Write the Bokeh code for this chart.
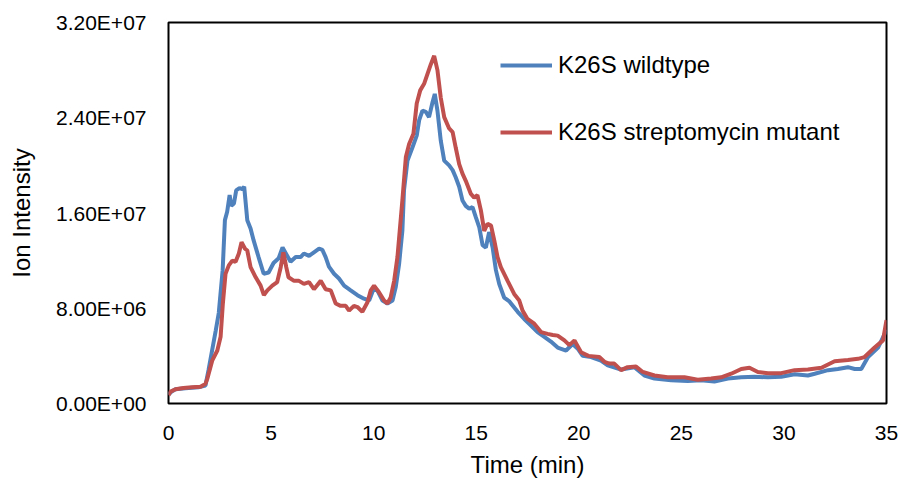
import numpy as np
from bokeh.plotting import figure
from bokeh.models import Range1d, FixedTicker, Legend, LegendItem
from bokeh.embed import file_html
from bokeh.resources import INLINE

# ---- data (intensity values in millions of counts) ----
time_wt = [0.0, 0.15, 0.34, 0.83, 1.46, 1.8, 1.95, 2.3, 2.45, 2.64, 2.75, 2.86, 2.98, 3.06, 3.19, 3.3,
           3.46, 3.6, 3.69, 3.84, 4.0, 4.15, 4.39, 4.64, 4.88, 5.12, 5.37, 5.56, 5.79, 5.95, 6.2, 6.44,
           6.6, 6.85, 7.09, 7.34, 7.5, 7.66, 7.82, 8.07, 8.31, 8.56, 8.88, 9.21, 9.53, 9.78, 9.99, 10.18,
           10.43, 10.67, 10.92, 11.08, 11.24, 11.4, 11.48, 11.65, 11.89, 12.1, 12.22, 12.38, 12.54, 12.7,
           12.87, 12.98, 13.11, 13.27, 13.44, 13.68, 13.85, 14.0, 14.17, 14.33, 14.49, 14.66, 14.82, 14.98,
           15.15, 15.31, 15.47, 15.63, 15.8, 15.96, 16.12, 16.36, 16.6, 17.02, 17.34, 17.67, 17.99, 18.32,
           18.64, 18.97, 19.38, 19.7, 19.95, 20.19, 20.6, 21.08, 21.41, 22.06, 22.71, 23.2, 23.69, 24.5,
           25.31, 25.96, 26.61, 27.27, 27.92, 28.57, 29.22, 29.87, 30.52, 31.17, 31.5, 32.15, 32.63, 33.12,
           33.45, 33.77, 34.1, 34.59, 34.91, 35.0]
intensity_wt = [0.75, 1.0, 1.2, 1.29, 1.37, 1.5, 2.8, 6.1, 7.6, 11.2, 15.4, 16.1, 17.5, 16.6, 16.8, 17.9,
                18.1, 18.0, 18.2, 15.4, 14.7, 13.7, 12.3, 10.9, 11.0, 11.8, 12.2, 13.1, 12.4, 11.9, 12.3, 12.3,
                12.6, 12.4, 12.7, 13.0, 12.9, 12.3, 11.5, 10.9, 10.5, 9.9, 9.5, 9.1, 8.8, 8.65, 9.6, 9.5,
                8.65, 8.4, 8.65, 9.8, 11.7, 14.5, 17.9, 20.4, 21.5, 22.5, 23.8, 24.6, 24.5, 24.05,
                25.3, 26.0, 24.6, 22.1, 20.4, 20.0, 19.6, 19.0, 18.2, 17.05, 16.6, 16.35, 16.5, 15.65,
                14.8, 13.3, 13.1, 14.4, 13.1, 11.2, 10.05, 8.9, 8.6, 7.7, 7.1, 6.55, 6.0, 5.6,
                5.2, 4.7, 4.45, 5.0, 4.6, 4.0, 3.9, 3.6, 3.2, 2.85, 3.05, 2.35, 2.1, 1.95,
                1.9, 1.95, 1.85, 2.1, 2.2, 2.25, 2.2, 2.25, 2.45, 2.35, 2.5, 2.8, 2.9, 3.05,
                2.9, 2.9, 3.9, 4.7, 5.85, 6.2]

time_mut = [0.0, 0.1, 0.34, 0.73, 1.15, 1.56, 1.8, 1.89, 2.13, 2.38, 2.54, 2.65, 2.78, 2.94, 3.11, 3.27,
            3.43, 3.56, 3.73, 3.84, 4.0, 4.25, 4.49, 4.65, 4.82, 5.06, 5.3, 5.47, 5.6, 5.74, 5.85, 6.12,
            6.36, 6.6, 6.85, 7.09, 7.42, 7.66, 7.91, 8.15, 8.39, 8.64, 8.8, 9.04, 9.21, 9.45, 9.7, 9.86,
            10.02, 10.26, 10.51, 10.67, 10.83, 11.0, 11.16, 11.4, 11.57, 11.73, 11.94, 12.1, 12.27, 12.46,
            12.63, 12.79, 12.95, 13.11, 13.27, 13.44, 13.68, 13.85, 14.0, 14.17, 14.33, 14.49, 14.74, 14.9,
            15.06, 15.23, 15.39, 15.55, 15.72, 15.88, 16.04, 16.2, 16.53, 16.85, 17.1, 17.26, 17.5, 17.83,
            18.16, 18.48, 18.73, 18.97, 19.3, 19.54, 19.79, 20.11, 20.47, 21.0, 21.25, 21.49, 21.73, 22.06,
            22.38, 22.79, 23.12, 23.69, 24.33, 25.15, 25.8, 26.45, 26.94, 27.43, 27.92, 28.32, 28.73, 29.22,
            29.87, 30.52, 31.17, 31.83, 32.47, 33.12, 33.61, 33.93, 34.42, 34.83, 35.0]
intensity_mut = [0.7, 1.0, 1.2, 1.3, 1.37, 1.4, 1.65, 2.07, 3.6, 4.45, 5.6, 8.4, 10.9, 11.6, 12.0, 11.9,
                 12.6, 13.55, 13.0, 12.85, 11.45, 10.6, 9.9, 9.1, 9.5, 9.9, 10.2, 11.45, 12.7, 11.45, 10.6, 10.3,
                 10.3, 10.05, 10.2, 9.6, 10.3, 9.6, 9.5, 8.4, 8.2, 8.2, 7.8, 8.2, 8.1, 7.7, 8.5, 9.5,
                 9.9, 9.35, 8.65, 8.4, 8.9, 10.3, 12.3, 17.05, 20.7, 21.8, 22.65, 25.2, 26.3, 26.85,
                 27.7, 28.5, 29.2, 28.0, 25.7, 24.05, 23.1, 22.8, 21.5, 20.1, 19.3, 18.7, 17.6, 17.3,
                 17.5, 16.2, 14.5, 15.1, 14.95, 13.7, 12.3, 11.45, 10.3, 9.2, 8.65, 7.8, 7.1, 6.7,
                 6.0, 5.85, 5.75, 5.7, 5.3, 4.9, 5.3, 4.3, 4.0, 3.9, 3.5, 3.35, 3.35, 2.8,
                 3.05, 3.1, 2.65, 2.35, 2.2, 2.2, 2.0, 2.1, 2.2, 2.5, 2.9, 3.0, 2.65, 2.55,
                 2.55, 2.8, 2.85, 3.0, 3.55, 3.65, 3.75, 3.9, 4.7, 5.3, 7.0]

series_names = ["K26S wildtype", "K26S streptomycin mutant"]
x_ticks = [0, 5, 10, 15, 20, 25, 30, 35]
y_ticks = [0, 8e6, 1.6e7, 2.4e7, 3.2e7]
y_tick_labels = ["0.00E+00", "8.00E+06", "1.60E+07", "2.40E+07", "3.20E+07"]
x_title = "Time (min)"
y_title = "Ion Intensity"

SCALE = 1e6
FONT = "Liberation Sans"
BLUE = "#4F81BD"
RED = "#C0504D"

p = figure(width=901, height=481, output_backend="svg", toolbar_location=None,
           x_range=Range1d(0, 35), y_range=Range1d(0, 3.2e7),
           min_border_left=168, min_border_right=15, min_border_top=22, min_border_bottom=78)
p.background_fill_color = "white"
p.border_fill_color = "white"
p.outline_line_color = "black"
p.outline_line_width = 2
p.grid.visible = False

r_wt = p.line(time_wt, np.array(intensity_wt) * SCALE, line_color=BLUE, line_width=4)
r_mut = p.line(time_mut, np.array(intensity_mut) * SCALE, line_color=RED, line_width=4)

for ax in (p.xaxis[0], p.yaxis[0]):
    ax.axis_line_color = None
    ax.major_tick_line_color = None
    ax.minor_tick_line_color = None
    ax.major_tick_out = 0
    ax.major_tick_in = 0
    ax.minor_tick_out = 0
    ax.minor_tick_in = 0
    ax.major_label_text_font = FONT
    ax.major_label_text_font_size = "21px"
    ax.major_label_text_color = "black"
    ax.axis_label_text_font = FONT
    ax.axis_label_text_font_size = "24px"
    ax.axis_label_text_font_style = "normal"
    ax.axis_label_text_color = "black"

p.xaxis[0].ticker = FixedTicker(ticks=x_ticks)
p.xaxis[0].major_label_standoff = 22
p.xaxis[0].axis_label = x_title
p.xaxis[0].axis_label_standoff = 8

p.yaxis[0].ticker = FixedTicker(ticks=y_ticks)
p.yaxis[0].major_label_overrides = {t: s for t, s in zip(y_ticks, y_tick_labels)}
p.yaxis[0].major_label_standoff = 22
p.yaxis[0].axis_label = y_title
p.yaxis[0].axis_label_standoff = 18

for r, name, loc in ((r_wt, series_names[0], (332, 324)), (r_mut, series_names[1], (332, 257))):
    lg = Legend(items=[LegendItem(label=name, renderers=[r])], location=loc,
                glyph_width=52, glyph_height=20, label_standoff=6, padding=0, margin=0,
                border_line_color=None, background_fill_alpha=0,
                label_text_font=FONT, label_text_font_size="24px", label_text_color="black")
    p.add_layout(lg, "center")

open("out.html", "w").write(file_html(p, INLINE))
